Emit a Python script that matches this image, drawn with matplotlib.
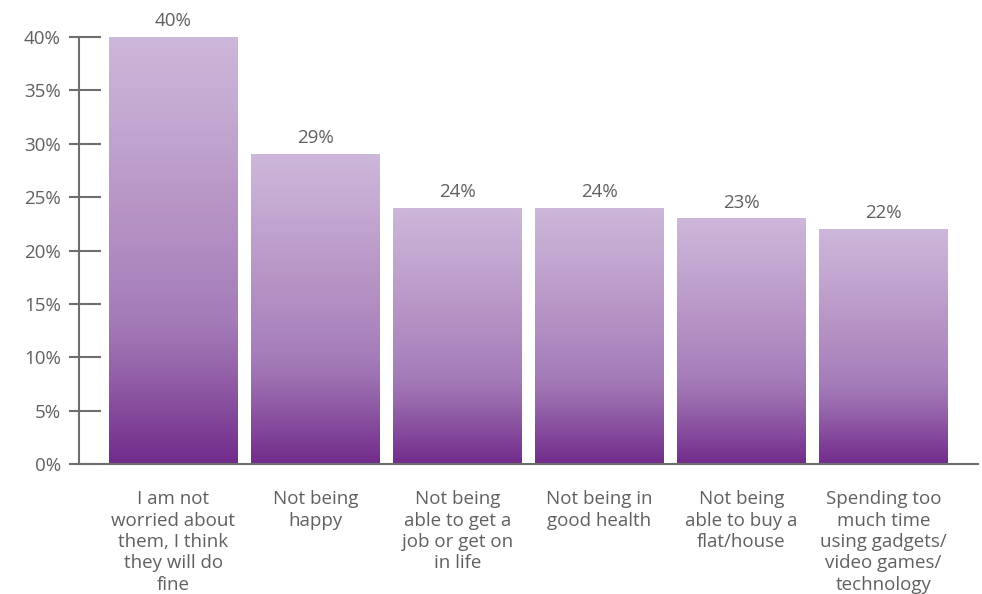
import numpy as np
import matplotlib.pyplot as plt
from matplotlib.colors import LinearSegmentedColormap

categories = [
    "I am not\nworried about\nthem, I think\nthey will do\nfine",
    "Not being\nhappy",
    "Not being\nable to get a\njob or get on\nin life",
    "Not being in\ngood health",
    "Not being\nable to buy a\nflat/house",
    "Spending too\nmuch time\nusing gadgets/\nvideo games/\ntechnology",
]
values = [40, 29, 24, 24, 23, 22]
yticks = [0, 5, 10, 15, 20, 25, 30, 35, 40]

plt.rcParams['font.family'] = ['Open Sans', 'DejaVu Sans']
grey = '#606060'
axis_grey = '#6e6e6e'

fig = plt.figure(figsize=(9.82, 5.94), dpi=100)
ax = fig.add_axes([79 / 982, 1 - 464 / 594, (978 - 79) / 982, (464 - 37) / 594])

# purple fade, dark at the base and light at the top of each bar
cmap = LinearSegmentedColormap.from_list('fade', [
    (0.0, '#722b8c'), (0.08, '#7e3f96'), (0.16, '#8b54a1'), (0.25, '#996aae'),
    (0.34, '#a47cb9'), (0.48, '#af8ac0'), (0.62, '#b896c6'), (0.8, '#c3a7d0'),
    (1.0, '#cdb7da')], N=2048)
grad = np.linspace(0, 1, 1024).reshape(-1, 1)

x = np.arange(len(values))
width = 0.908
bars = ax.bar(x, values, width=width, color='none', edgecolor='none', zorder=2)
for b, v in zip(bars, values):
    im = ax.imshow(grad, cmap=cmap, origin='lower', aspect='auto',
                   interpolation='bilinear', interpolation_stage='rgba',
                   extent=[b.get_x(), b.get_x() + b.get_width(), 0, v], zorder=2)
    im.set_clip_path(b)
    ax.annotate(f"{v}%", (b.get_x() + b.get_width() / 2, v), xytext=(0, 5),
                textcoords='offset points', ha='center', va='bottom',
                fontsize=13.5, color=grey)

ax.set_xlim(-0.663, len(values) - 1 + 0.665)
ax.set_ylim(0, 40)
ax.set_yticks(yticks)
ax.set_yticklabels([f"{t}%" for t in yticks], fontsize=13.5, color=grey)
# short stubs outside the axis line, longer ones inside
ax.set_yticks(yticks, minor=True)
ax.yaxis.remove_overlapping_locs = False
ax.set_xticks(x)
ax.set_xticklabels(categories, fontsize=13.5, color=grey, linespacing=1.24, va='top')

for s in ['top', 'right']:
    ax.spines[s].set_visible(False)
for s in ['left', 'bottom']:
    ax.spines[s].set_color(axis_grey)
    ax.spines[s].set_linewidth(1.5)
ax.tick_params(axis='y', which='major', direction='in', length=16, width=1.5,
               color=axis_grey, pad=13)
ax.tick_params(axis='y', which='minor', direction='out', length=7, width=1.5,
               color=axis_grey)
ax.tick_params(axis='x', length=0, pad=19)

fig.savefig('out.png', dpi=100)
